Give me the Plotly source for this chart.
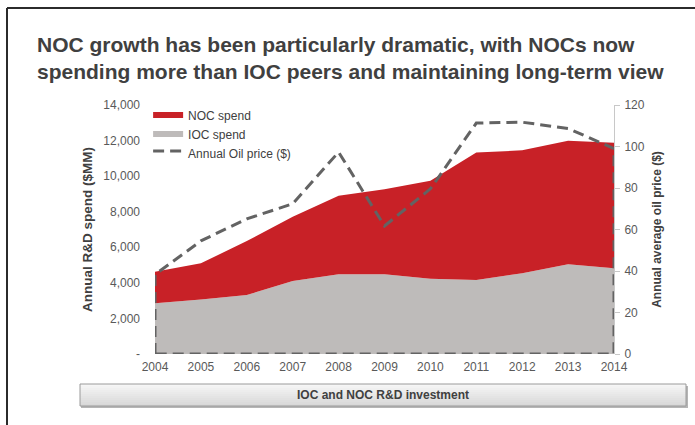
import plotly.graph_objects as go

years = [2004, 2005, 2006, 2007, 2008, 2009, 2010, 2011, 2012, 2013, 2014]
ioc_spend = [2850, 3070, 3320, 4100, 4480, 4480, 4230, 4160, 4540, 5040, 4820]
noc_spend = [1780, 2030, 3030, 3620, 4420, 4780, 5510, 7170, 6910, 6950, 7060]
oil_price = [38.3, 54.5, 65.1, 72.4, 97.3, 61.7, 79.6, 111.3, 111.7, 108.7, 99.0]
left_ticks = [0, 2000, 4000, 6000, 8000, 10000, 12000, 14000]
left_labels = ["-", "2,000", "4,000", "6,000", "8,000", "10,000", "12,000", "14,000"]

W, H = 695, 425
L, R, T, B = 155, 614, 105, 354
FONT = "Liberation Sans, Arial, sans-serif"
TXT = "#404040"
TICK = "#595959"

def px(x):
    return (x - L) / (R - L)

def py(y):
    return (B - y) / (B - T)

fig = go.Figure()
fig.add_trace(go.Scatter(
    x=years, y=ioc_spend, name="IOC spend", stackgroup="spend", mode="none",
    fillcolor="#BEBBBA", legendrank=2, hoverinfo="skip"))
fig.add_trace(go.Scatter(
    x=years, y=noc_spend, name="NOC spend", stackgroup="spend", mode="none",
    fillcolor="#C82127", legendrank=1, hoverinfo="skip"))

# oil price drawn as an unfilled area with dashed outline
ox = [years[0]] + years + [years[-1], years[0]]
oy = [0] + oil_price + [0, 0]
fig.add_trace(go.Scatter(
    x=ox, y=oy, yaxis="y2", name="Annual Oil price ($)", mode="lines",
    fill="toself", fillcolor="rgba(0,0,0,0)",
    line=dict(color="#636363", width=3, dash="11px,6px"),
    cliponaxis=False, legendrank=3, hoverinfo="skip"))

shapes = []
# outer frame (top and left)
shapes.append(dict(type="line", xref="paper", yref="paper",
                   x0=px(7), x1=px(7), y0=py(430), y1=py(8),
                   line=dict(color="#2b2b2b", width=2)))
shapes.append(dict(type="line", xref="paper", yref="paper",
                   x0=px(7), x1=px(700), y0=py(8), y1=py(8),
                   line=dict(color="#2b2b2b", width=2)))
# banner shadow
shapes.append(dict(type="rect", xref="paper", yref="paper",
                   x0=px(81), x1=px(688), y0=py(408), y1=py(386),
                   fillcolor="#b5b5b5", line=dict(width=0), layer="above"))
# banner gradient strips
bx0, bx1, by0, by1 = 80, 686, 384, 406
n = 11
for i in range(n):
    t = i / (n - 1)
    c = int(246 - 30 * t)
    y0 = by0 + (by1 - by0) * i / n
    y1 = by0 + (by1 - by0) * (i + 1) / n
    shapes.append(dict(type="rect", xref="paper", yref="paper",
                       x0=px(bx0), x1=px(bx1), y0=py(y1), y1=py(y0),
                       fillcolor=f"rgb({c},{c},{c})", line=dict(width=0), layer="above"))
shapes.append(dict(type="rect", xref="paper", yref="paper",
                   x0=px(bx0), x1=px(bx1), y0=py(by1), y1=py(by0),
                   fillcolor="rgba(0,0,0,0)", line=dict(color="#9a9a9a", width=1), layer="above"))

annotations = [
    dict(xref="paper", yref="paper", x=px(35), y=py(45), xanchor="left", yanchor="middle",
         text="<b>NOC growth has been particularly dramatic, with NOCs now</b>",
         showarrow=False, font=dict(family=FONT, size=21, color=TXT)),
    dict(xref="paper", yref="paper", x=px(35), y=py(72), xanchor="left", yanchor="middle",
         text="<b>spending more than IOC peers and maintaining long-term view</b>",
         showarrow=False, font=dict(family=FONT, size=21, color=TXT)),
    dict(xref="paper", yref="paper", x=px(383), y=py(395), xanchor="center", yanchor="middle",
         text="<b>IOC and NOC R&D investment</b>",
         showarrow=False, font=dict(family=FONT, size=12, color=TXT)),
]

fig.update_layout(
    width=W, height=H,
    margin=dict(l=L, r=W - R, t=T, b=H - B, pad=0),
    paper_bgcolor="white", plot_bgcolor="white",
    font=dict(family=FONT, size=12, color=TICK),
    showlegend=True,
    legend=dict(x=-0.015, y=1.018, xanchor="left", yanchor="top", traceorder="normal",
                bgcolor="rgba(0,0,0,0)", itemwidth=30, tracegroupgap=0,
                font=dict(family=FONT, size=12, color=TXT)),
    xaxis=dict(range=[2004, 2014], tickmode="array", tickvals=years,
               ticktext=[str(y) for y in years], showgrid=False, zeroline=False,
               showline=False, ticks="", ticklabelstandoff=4,
               tickfont=dict(family=FONT, size=12, color=TICK)),
    yaxis=dict(range=[0, 14000], tickmode="array", tickvals=left_ticks,
               ticktext=left_labels, showgrid=False, zeroline=False, showline=False,
               ticks="", ticklabelstandoff=14,
               title=dict(text="<b>Annual R&D spend ($MM)</b>", standoff=7,
                          font=dict(family=FONT, size=13.5, color=TXT)),
               tickfont=dict(family=FONT, size=12, color=TICK)),
    yaxis2=dict(range=[0, 120], dtick=20, overlaying="y", side="right",
                showgrid=False, zeroline=False, showline=True, linecolor="#c8c8c8",
                linewidth=1, ticks="outside", ticklen=5, tickcolor="#c8c8c8",
                ticklabelstandoff=2,
                title=dict(text="<b>Annual average oil price ($)</b>", standoff=8,
                           font=dict(family=FONT, size=12, color=TXT)),
                tickfont=dict(family=FONT, size=12, color=TICK)),
    shapes=shapes,
    annotations=annotations,
)

fig.write_html("out.html")
